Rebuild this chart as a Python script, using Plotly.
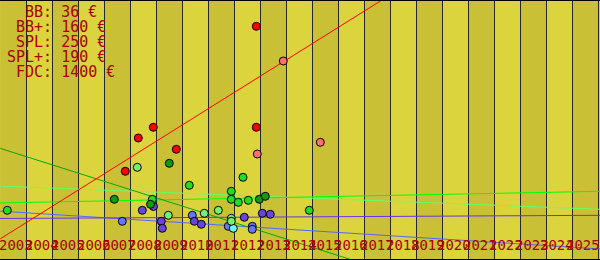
import plotly.graph_objects as go

# ---------------- data ----------------
years = list(range(2003, 2026))
legend_lines = ["\u00a0\u00a0BB:\u00a036\u00a0€", "\u00a0BB+:\u00a0160\u00a0€", "\u00a0SPL:\u00a0250\u00a0€",
                "SPL+:\u00a0190\u00a0€", "\u00a0FDC:\u00a01400\u00a0€"]

fdc_x = [2012.846, 2008.885, 2012.846, 2009.769, 2008.308, 2007.808]
fdc_y = [233.7, 132.7, 132.7, 110.7, 122.0, 88.7]
fdc2_x = [2013.885, 2012.885, 2015.308]
fdc2_y = [199.0, 106.0, 117.7]
splp_x = [2009.5, 2007.385, 2008.777, 2012.962, 2013.192]
splp_y = [96.7, 60.7, 55.7, 60.7, 63.7]
spl_x = [2010.269, 2003.269, 2008.846, 2012.335, 2011.885, 2011.885, 2012.154, 2012.538, 2014.885]
spl_y = [74.7, 49.7, 60.7, 82.7, 68.7, 60.7, 57.7, 59.7, 49.7]
spl2_x = [2008.269, 2009.462, 2011.385, 2010.846, 2011.885, 2011.885]
spl2_y = [92.7, 44.7, 49.7, 46.7, 41.7, 38.7]
bbp_x = [2008.462, 2008.892, 2009.192, 2009.231, 2010.462, 2010.731, 2013.077, 2013.385, 2012.385]
bbp_y = [49.7, 53.5, 38.7, 31.7, 38.7, 35.7, 46.7, 45.7, 42.7]
bb_x = [2007.692, 2010.385, 2011.769, 2012.692, 2012.692]
bb_y = [38.7, 44.7, 33.7, 33.7, 30.7]
bb2_x = [2011.962]
bb2_y = [31.7]

# trend lines (two end points each)
t_fdc_x, t_fdc_y = [2003, 2018], [21.2, 265.2]
t_splp_x, t_splp_y = [2003, 2017], [111.6, -3.8]
t_spl_x, t_spl_y = [2002.9, 2026.1], [57.0, 68.7]
t_spl2_x, t_spl2_y = [2002.9, 2026.1], [74.0, 50.7]
t_bbp_x, t_bbp_y = [2002.9, 2026.1], [41.5, 44.7]
t_bb_x, t_bb_y = [2002.9, 2026.1], [49.0, 11.0]

# ---------------- styles ----------------
LIGHT = "#DCD43C"
DARK = "#C9C035"
GRID = "#26262E"
TXT = "#A80000"

fig = go.Figure()

for tx, ty, col in [(t_bb_x, t_bb_y, "#5566FF"), (t_bbp_x, t_bbp_y, "#6633EE"),
                    (t_spl2_x, t_spl2_y, "#66FF66"), (t_spl_x, t_spl_y, "#00FF00"),
                    (t_splp_x, t_splp_y, "#00AA00"), (t_fdc_x, t_fdc_y, "#FF0000")]:
    fig.add_trace(go.Scatter(x=tx, y=ty, mode="lines", line=dict(color=col, width=1),
                             hoverinfo="skip", showlegend=False))

for px, py, col, name in [(bb_x, bb_y, "#6677FF", "BB"), (bb2_x, bb2_y, "#66FFFF", "BB (2)"),
                          (bbp_x, bbp_y, "#6644DD", "BB+"), (spl2_x, spl2_y, "#77EE77", "SPL (2)"),
                          (spl_x, spl_y, "#22DD22", "SPL"), (splp_x, splp_y, "#119911", "SPL+"),
                          (fdc2_x, fdc2_y, "#FF6F6F", "FDC (2)"), (fdc_x, fdc_y, "#FF0000", "FDC")]:
    fig.add_trace(go.Scatter(x=px, y=py, mode="markers", name=name, showlegend=False,
                             marker=dict(color=col, size=8, line=dict(color="black", width=1))))

shapes = []
for y in years:
    if (y - 2003) % 2 == 0:
        shapes.append(dict(type="rect", xref="x", yref="paper", x0=y, x1=y + 1, y0=0, y1=1,
                           fillcolor=DARK, line=dict(width=0), layer="below"))
shapes.append(dict(type="line", xref="paper", yref="paper", x0=0, x1=1, y0=1, y1=1,
                   line=dict(color="black", width=2)))
shapes.append(dict(type="line", xref="paper", yref="paper", x0=0, x1=1, y0=0, y1=0,
                   line=dict(color="black", width=2)))

annotations = []
for y in years:
    annotations.append(dict(x=y, xref="x", y=(260 - 244.5) / 260, yref="paper", text=str(y),
                            showarrow=False, xanchor="left", yanchor="middle",
                            xshift=-1 - 0.24 * (y - 2003), borderpad=0, borderwidth=0,
                            font=dict(family="DejaVu Sans Mono", size=14, color=TXT)))
for i, t in enumerate(legend_lines):
    annotations.append(dict(x=7 / 600, xref="paper", y=(260 - (11.7 + 15 * i)) / 260, yref="paper",
                            text=t, showarrow=False, xanchor="left", yanchor="middle",
                            borderpad=0, borderwidth=0,
                            font=dict(family="DejaVu Sans Mono", size=15, color=TXT)))

fig.update_layout(
    width=600, height=260, margin=dict(l=0, r=0, t=0, b=0),
    paper_bgcolor=LIGHT, plot_bgcolor=LIGHT,
    shapes=shapes, annotations=annotations, showlegend=False,
    xaxis=dict(range=[2003 - 0.3 / 26, 2003 + 599.7 / 26], tick0=2003, dtick=1,
               showgrid=True, gridcolor=GRID, gridwidth=1, showticklabels=False,
               zeroline=False, showline=False, ticks=""),
    yaxis=dict(range=[0, 260], showgrid=False, showticklabels=False, zeroline=False,
               showline=False, ticks=""),
)

fig.write_html("out.html")
